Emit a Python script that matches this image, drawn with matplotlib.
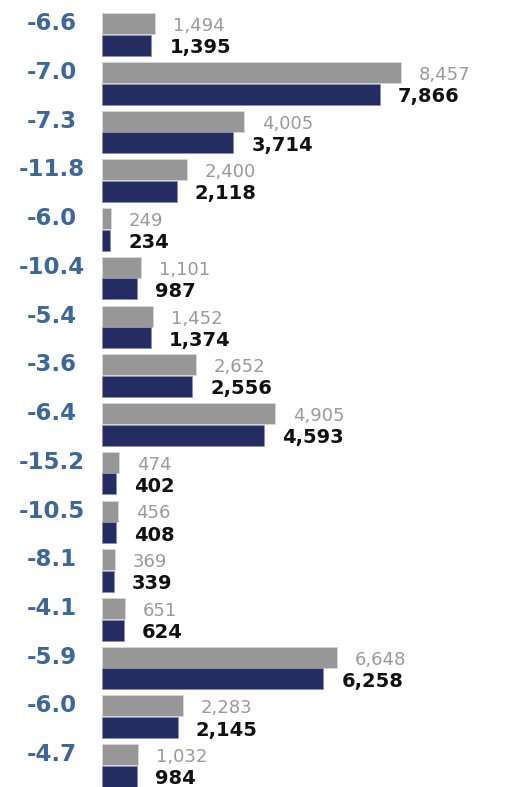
import matplotlib
matplotlib.use("Agg")
import matplotlib.pyplot as plt

pct_change = [-6.6, -7.0, -7.3, -11.8, -6.0, -10.4, -5.4, -3.6, -6.4, -15.2, -10.5, -8.1, -4.1, -5.9, -6.0, -4.7]
previous = [1494, 8457, 4005, 2400, 249, 1101, 1452, 2652, 4905, 474, 456, 369, 651, 6648, 2283, 1032]
current = [1395, 7866, 3714, 2118, 234, 987, 1374, 2556, 4593, 402, 408, 339, 624, 6258, 2145, 984]

W, H = 511, 787
fig = plt.figure(figsize=(W / 100, H / 100), dpi=100)
x0 = 102
scale = 0.03536  # px per unit
ax = fig.add_axes([x0 / W, 0, 1 - x0 / W, 1])
ax.set_xlim(0, (W - x0) / scale)
pitch = 48.73
ax.set_ylim((H - 34.5) / pitch, -34.5 / pitch)
ax.axis("off")

bh = 21 / pitch
off = 10.8 / pitch
n = len(previous)
ys = list(range(n))
grey = "#979797"
navy = "#252c62"
ax.barh([y - off for y in ys], previous, height=bh, color=grey, edgecolor="#d8d8d8", linewidth=0.6)
ax.barh([y + off for y in ys], current, height=bh, color=navy, edgecolor="#8a90b8", linewidth=0.6)

pad = 18 / scale
for y, p, c, pc in zip(ys, previous, current, pct_change):
    ax.text(p + pad, y - off + 2.5 / pitch, f"{p:,}", ha="left", va="center",
            fontsize=13, color="#9a9a9a", family="DejaVu Sans", fontweight="normal")
    ax.text(c + pad, y + off + 2.5 / pitch, f"{c:,}", ha="left", va="center",
            fontsize=14, color="#111111", family="DejaVu Sans", fontweight="bold")
    ax.text(-50 / scale, y - off, f"{pc:.1f}", ha="center", va="center",
            fontsize=16.5, color="#3b679a", family="DejaVu Sans", fontweight="bold")

fig.savefig("out.png", dpi=100)
